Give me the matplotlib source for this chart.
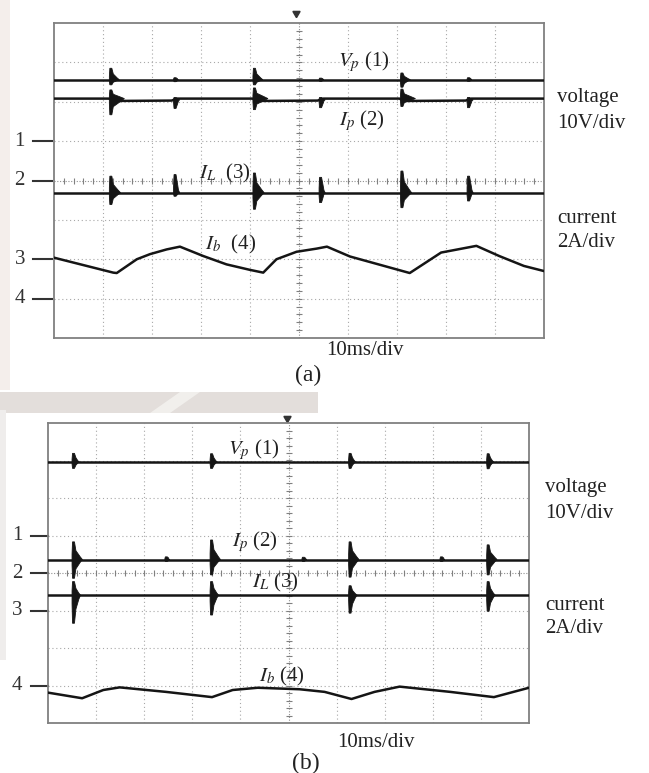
import numpy as np
import matplotlib.pyplot as plt
from matplotlib.patches import Polygon, Rectangle

plt.rcParams["font.family"] = ["Liberation Serif", "DejaVu Serif"]
plt.rcParams["mathtext.fontset"] = "stix"

# ---------------- panel (a) data (divisions: x 0..10, y 0..8) ----------------
a_vp_base = 6.56
a_ip_x = [0, 1.12, 1.22, 2.40, 2.52, 4.05, 4.14, 5.38, 5.50, 7.05, 7.14, 8.40, 8.52, 10]
a_ip_y = [6.08, 6.08, 6.02, 6.03, 6.08, 6.08, 6.02, 6.03, 6.08, 6.08, 6.02, 6.03, 6.08, 6.08]
a_il_base = 3.69
a_ib_x = [0.0, 1.21, 1.28, 1.69, 1.96, 2.30, 2.57, 3.05, 3.52, 4.00, 4.27, 4.54,
          4.95, 5.36, 5.57, 6.04, 7.26, 7.90, 8.62, 9.09, 9.59, 10.0]
a_ib_y = [2.04, 1.66, 1.65, 2.00, 2.13, 2.25, 2.32, 2.08, 1.87, 1.73, 1.66, 2.00,
          2.19, 2.27, 2.32, 2.07, 1.65, 2.17, 2.34, 2.08, 1.83, 1.70]

a_big_x = [1.15, 4.08, 7.09]
a_small_x = [2.46, 5.43, 8.45]
a_vp_big = [(0.29, 0.13), (0.29, 0.13), (0.17, 0.19)]
a_vp_small = [(0.05, 0.05), (0.04, 0.04), (0.05, 0.04)]
a_ip_big = [(0.22, 0.41), (0.27, 0.28), (0.24, 0.20)]
a_ip_small = [(0.06, 0.22), (0.06, 0.20), (0.06, 0.20)]
a_il_big = [(0.42, 0.30), (0.50, 0.42), (0.55, 0.38)]
a_il_small = [(0.46, 0.09), (0.39, 0.25), (0.42, 0.21)]

# ---------------- panel (b) data ----------------
b_vp_base = 6.96
b_ip_base = 4.36
b_il_base = 3.41
b_ib_x = [0.00, 0.71, 1.15, 1.49, 2.45, 3.41, 3.84, 4.36, 5.23, 5.75, 6.31, 6.79,
          7.31, 8.36, 9.27, 10.0]
b_ib_y = [0.81, 0.66, 0.88, 0.95, 0.83, 0.69, 0.88, 0.94, 0.90, 0.83, 0.64, 0.83,
          0.97, 0.83, 0.69, 0.94]

b_big_x = [0.52, 3.39, 6.27, 9.14]
b_small_x = [2.45, 5.30, 8.17]
b_vp_big = [(0.23, 0.17), (0.22, 0.17), (0.23, 0.17), (0.22, 0.18)]
b_ip_big = [(0.47, 0.50), (0.52, 0.41), (0.47, 0.47), (0.39, 0.41)]
b_ip_small = [(0.07, 0.05), (0.06, 0.05), (0.07, 0.05)]
b_il_big = [(0.36, 0.75), (0.36, 0.53), (0.25, 0.48), (0.36, 0.43)]

TRACE = "#151515"


def burst(ax, x0, base, up, down, w):
    # ringing burst: near-vertical spike with a short decaying tail
    pts = [(x0 - 0.02, base + up * 0.3), (x0 - 0.01, base + up), (x0 + 0.03, base + up),
           (x0 + 0.06, base + up * 0.5), (x0 + w, base + up * 0.15), (x0 + w * 1.3, base),
           (x0 + w, base - down * 0.15), (x0 + 0.06, base - down * 0.5),
           (x0 + 0.03, base - down), (x0 - 0.01, base - down), (x0 - 0.02, base - down * 0.3)]
    ax.add_patch(Polygon(pts, closed=True, fc=TRACE, ec=TRACE, lw=0.6, zorder=4))


def scope_frame(ax):
    ax.set_xlim(0, 10)
    ax.set_ylim(0, 8)
    ax.set_xticks([])
    ax.set_yticks([])
    for s in ax.spines.values():
        s.set_color("#808080")
        s.set_linewidth(1.3)
    for i in range(1, 10):
        if i != 5:
            ax.axvline(i, color="#a8a8a8", lw=0.8, ls=(0, (1, 2.5)), zorder=1)
    for j in range(1, 8):
        if j != 4:
            ax.axhline(j, color="#a8a8a8", lw=0.8, ls=(0, (1, 2.5)), zorder=1)
    # centre axes with minor ticks
    ax.axvline(5, color="#909090", lw=0.8, ls=(0, (1, 1.5)), zorder=1)
    ax.axhline(4, color="#909090", lw=0.8, ls=(0, (1, 1.5)), zorder=1)
    ty = np.arange(0.2, 8, 0.2)
    tx = np.arange(0.2, 10, 0.2)
    ax.plot([5] * len(ty), ty, ls="none", marker="_", ms=4, mew=0.8, color="#808080", zorder=1)
    ax.plot(tx, [4] * len(tx), ls="none", marker="|", ms=4, mew=0.8, color="#808080", zorder=1)


def side_labels(ax, xr, ys, marks, xn, xd0, xd1):
    for txt, y in zip(["voltage", "10V/div", "current", "2A/div"], ys):
        ax.text(xr, y, txt, fontsize=15, ha="left", va="center", color="#222")
    for num, lev in zip(["1", "2", "3", "4"], marks):
        ax.text(xn, lev, num, fontsize=15, ha="center", va="center", color="#333", clip_on=False)
        ax.plot([xd0, xd1], [lev, lev], color="#333", lw=1.5, clip_on=False)


fig = plt.figure(figsize=(6.49, 7.73), dpi=100)

# faint scanned-page background bits
fig.add_artist(Rectangle((0, 1 - 413 / 773), 318 / 649, 21 / 773, transform=fig.transFigure,
                         fc="#e3dedb", ec="none", zorder=0))
fig.add_artist(Polygon([(150 / 649, 1 - 413 / 773), (180 / 649, 1 - 392 / 773),
                        (200 / 649, 1 - 392 / 773), (170 / 649, 1 - 413 / 773)],
                       closed=True, transform=fig.transFigure, fc="#f1efec", ec="none", zorder=0))
fig.add_artist(Rectangle((0, 1 - 390 / 773), 10 / 649, 390 / 773, transform=fig.transFigure,
                         fc="#f4eeeb", ec="none", zorder=0))
fig.add_artist(Rectangle((0, 1 - 660 / 773), 6 / 649, 250 / 773, transform=fig.transFigure,
                         fc="#efedec", ec="none", zorder=0))

# ---------------- panel (a) ----------------
ax1 = fig.add_axes([54 / 649, 1 - 338 / 773, 490 / 649, 315 / 773])
scope_frame(ax1)
ax1.plot([0, 10], [a_vp_base, a_vp_base], color=TRACE, lw=1.8, zorder=3)
ax1.plot(a_ip_x, a_ip_y, color=TRACE, lw=1.8, zorder=3)
ax1.plot([0, 10], [a_il_base, a_il_base], color=TRACE, lw=1.8, zorder=3)
ax1.plot(a_ib_x, a_ib_y, color=TRACE, lw=1.8, zorder=3)
for x0, (u, d) in zip(a_big_x, a_vp_big):
    burst(ax1, x0, a_vp_base, u, d, 0.14)
for x0, (u, d) in zip(a_small_x, a_vp_small):
    burst(ax1, x0, a_vp_base, u, d, 0.06)
for x0, (u, d) in zip(a_big_x, a_ip_big):
    burst(ax1, x0, 6.08, u, d, 0.22)
for x0, (u, d) in zip(a_small_x, a_ip_small):
    burst(ax1, x0, 6.05, u, d, 0.08)
for x0, (u, d) in zip(a_big_x, a_il_big):
    burst(ax1, x0, a_il_base, u, d, 0.16)
for x0, (u, d) in zip(a_small_x, a_il_small):
    burst(ax1, x0, a_il_base, u, d, 0.08)

ax1.text(6.33, 7.02, r"$V_p$ (1)", fontsize=15, ha="center", va="center", color="#222")
ax1.text(6.29, 5.53, r"$I_p$ (2)", fontsize=15, ha="center", va="center", color="#222")
ax1.text(3.49, 4.19, r"$I_L$  (3)", fontsize=15, ha="center", va="center", color="#222")
ax1.text(3.61, 2.38, r"$I_b$  (4)", fontsize=15, ha="center", va="center", color="#222")
side_labels(ax1, 10.27, [6.12, 5.46, 3.03, 2.42], [5, 4, 2, 1], -0.70, -0.43, -0.04)
ax1.text(6.35, -0.32, "10ms/div", fontsize=15, ha="center", va="center", color="#222")
ax1.text(5.18, -0.96, "(a)", fontsize=17, ha="center", va="center", color="#222")
ax1.plot([4.93], [8.25], marker=(3, 0, 180), ms=6, color="#333", clip_on=False)

# ---------------- panel (b) ----------------
ax2 = fig.add_axes([48 / 649, 1 - 723 / 773, 481 / 649, 300 / 773])
scope_frame(ax2)
ax2.plot([0, 10], [b_vp_base, b_vp_base], color=TRACE, lw=1.8, zorder=3)
ax2.plot([0, 10], [b_ip_base, b_ip_base], color=TRACE, lw=1.8, zorder=3)
ax2.plot([0, 10], [b_il_base, b_il_base], color=TRACE, lw=1.8, zorder=3)
ax2.plot(b_ib_x, b_ib_y, color=TRACE, lw=1.8, zorder=3)
for x0, (u, d) in zip(b_big_x, b_vp_big):
    burst(ax2, x0, b_vp_base, u, d, 0.1)
for x0, (u, d) in zip(b_big_x, b_ip_big):
    burst(ax2, x0, b_ip_base, u, d, 0.15)
for x0, (u, d) in zip(b_small_x, b_ip_small):
    burst(ax2, x0, b_ip_base, u, d, 0.06)
for x0, (u, d) in zip(b_big_x, b_il_big):
    burst(ax2, x0, b_il_base, u, d, 0.12)

ax2.text(4.28, 7.30, r"$V_p$ (1)", fontsize=15, ha="center", va="center", color="#222")
ax2.text(4.30, 4.83, r"$I_p$ (2)", fontsize=15, ha="center", va="center", color="#222")
ax2.text(4.72, 3.74, r"$I_L$ (3)", fontsize=15, ha="center", va="center", color="#222")
ax2.text(4.86, 1.25, r"$I_b$ (4)", fontsize=15, ha="center", va="center", color="#222")
side_labels(ax2, 10.33, [6.27, 5.60, 3.12, 2.53], [5, 4, 3, 1], -0.64, -0.35, 0.0)
ax2.text(6.82, -0.51, "10ms/div", fontsize=15, ha="center", va="center", color="#222")
ax2.text(5.36, -1.07, "(b)", fontsize=17, ha="center", va="center", color="#222")
ax2.plot([4.97], [8.13], marker=(3, 0, 180), ms=6, color="#333", clip_on=False)

fig.savefig("out.png", dpi=100)
plt.close(fig)
